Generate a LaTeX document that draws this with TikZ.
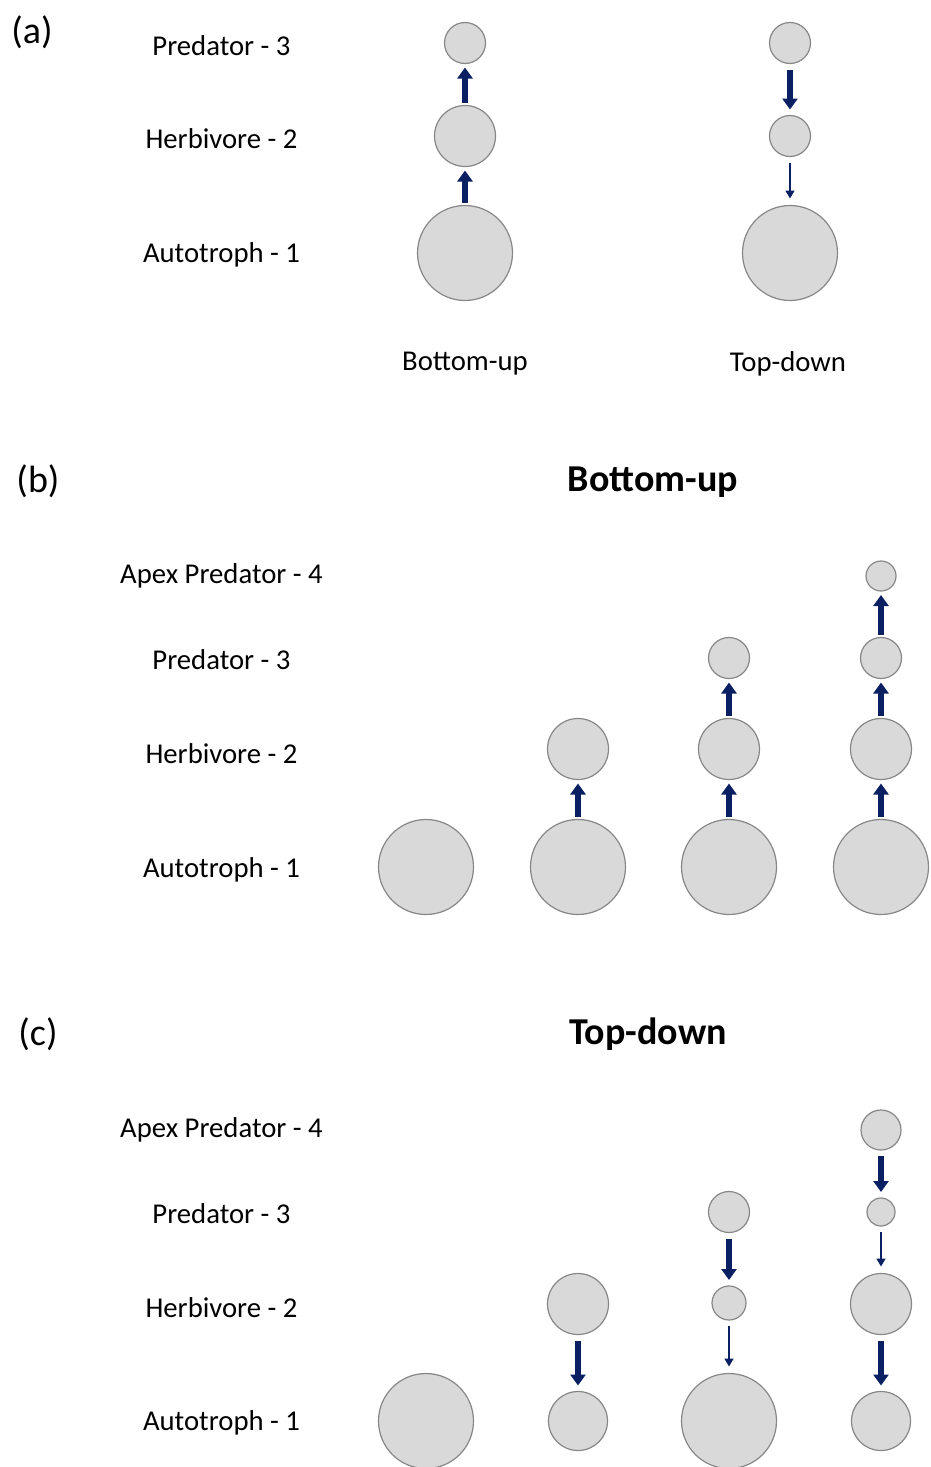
\documentclass[tikz,border=0pt]{standalone}
\usepackage{fontspec}
\setmainfont{Carlito}
\usetikzlibrary{arrows.meta}
\definecolor{navy}{RGB}{10,32,98}
\definecolor{cfill}{RGB}{217,217,217}
\definecolor{cedge}{RGB}{135,135,135}
\tikzset{
  circ/.style={circle,fill=cfill,draw=cedge,line width=1.2pt,inner sep=0pt,outer sep=0pt,minimum size=#1},
  lbl/.style={font=\fontsize{28.7}{34}\selectfont,inner sep=0pt,anchor=center,yshift=-2pt},
  head/.style={font=\fontsize{38}{44}\selectfont\bfseries,inner sep=0pt,anchor=center,yshift=-3pt},
  panel/.style={font=\fontsize{38}{44}\selectfont,inner sep=0pt,anchor=center,yshift=-1pt},
  thickup/.style={navy,line width=6.5pt,-{Triangle[width=15pt,length=11pt]},shorten <=3pt,shorten >=4pt},
  thickdown/.style={navy,line width=6.5pt,-{Triangle[width=15pt,length=11pt]},shorten <=6pt,shorten >=6pt},
  thindown/.style={navy,line width=1.5pt,-{Triangle[width=9pt,length=8pt]},shorten <=6pt,shorten >=7pt}
}
\begin{document}
\begin{tikzpicture}[x=1pt,y=-1pt]
\useasboundingbox (0,0) rectangle (930,1467);
% ---------- panel (a)
\node[panel] (pa) at (32,31) {(a)};
\node[lbl] (la3) at (221.5,44) {Predator - 3};
\node[lbl] (la2) at (221.5,137) {Herbivore - 2};
\node[lbl] (la1) at (221.5,253) {Autotroph - 1};
\node[lbl] (bu) at (465,362) {Bottom-up};
\node[lbl] (td) at (788,362) {Top-down};
% bottom-up column
\node[circ=41pt] (a13) at (465,43) {};
\node[circ=61pt] (a12) at (465,136) {};
\node[circ=95pt] (a11) at (465,253) {};
\draw[thickup] (a12.north) -- (a13.south);
\draw[thickup] (a11.north) -- (a12.south);
% top-down column
\node[circ=41pt] (a23) at (790,43) {};
\node[circ=41pt] (a22) at (790,136) {};
\node[circ=95pt] (a21) at (790,253) {};
\draw[thickdown] (a23.south) -- (a22.north);
\draw[thindown] (a22.south) -- (a21.north);
% ---------- panel (b)
\node[panel] (pb) at (38,480) {(b)};
\node[head] (hb) at (653,479) {Bottom-up};
\node[lbl] (lb4) at (221.5,574) {Apex Predator - 4};
\node[lbl] (lb3) at (221.5,658) {Predator - 3};
\node[lbl] (lb2) at (221.5,752) {Herbivore - 2};
\node[lbl] (lb1) at (221.5,868) {Autotroph - 1};
\node[circ=95pt] (b11) at (426,867) {};
\node[circ=95pt] (b21) at (578,867) {};
\node[circ=61pt] (b22) at (578,749) {};
\draw[thickup] (b21.north) -- (b22.south);
\node[circ=95pt] (b31) at (729,867) {};
\node[circ=61pt] (b32) at (729,749) {};
\node[circ=41pt] (b33) at (729,658) {};
\draw[thickup] (b31.north) -- (b32.south);
\draw[thickup] (b32.north) -- (b33.south);
\node[circ=95pt] (b41) at (881,867) {};
\node[circ=61pt] (b42) at (881,749) {};
\node[circ=41pt] (b43) at (881,658) {};
\node[circ=30pt] (b44) at (881,576) {};
\draw[thickup] (b41.north) -- (b42.south);
\draw[thickup] (b42.north) -- (b43.south);
\draw[thickup] (b43.north) -- (b44.south);
% ---------- panel (c)
\node[panel] (pc) at (38,1033) {(c)};
\node[head] (hc) at (648,1031) {Top-down};
\node[lbl] (lc4) at (221.5,1128) {Apex Predator - 4};
\node[lbl] (lc3) at (221.5,1212) {Predator - 3};
\node[lbl] (lc2) at (221.5,1306) {Herbivore - 2};
\node[lbl] (lc1) at (221.5,1421) {Autotroph - 1};
\node[circ=95pt] (c11) at (426,1421) {};
\node[circ=61pt] (c22) at (578,1304) {};
\node[circ=59pt] (c21) at (578,1421) {};
\draw[thickdown] (c22.south) -- (c21.north);
\node[circ=41pt] (c33) at (729,1212) {};
\node[circ=34pt] (c32) at (729,1303) {};
\node[circ=95pt] (c31) at (729,1421) {};
\draw[thickdown] (c33.south) -- (c32.north);
\draw[thindown] (c32.south) -- (c31.north);
\node[circ=40pt] (c44) at (881,1130) {};
\node[circ=28pt] (c43) at (881,1212) {};
\node[circ=61pt] (c42) at (881,1304) {};
\node[circ=59pt] (c41) at (881,1421) {};
\draw[thickdown] (c44.south) -- (c43.north);
\draw[thindown] (c43.south) -- (c42.north);
\draw[thickdown] (c42.south) -- (c41.north);
\end{tikzpicture}
\end{document}
